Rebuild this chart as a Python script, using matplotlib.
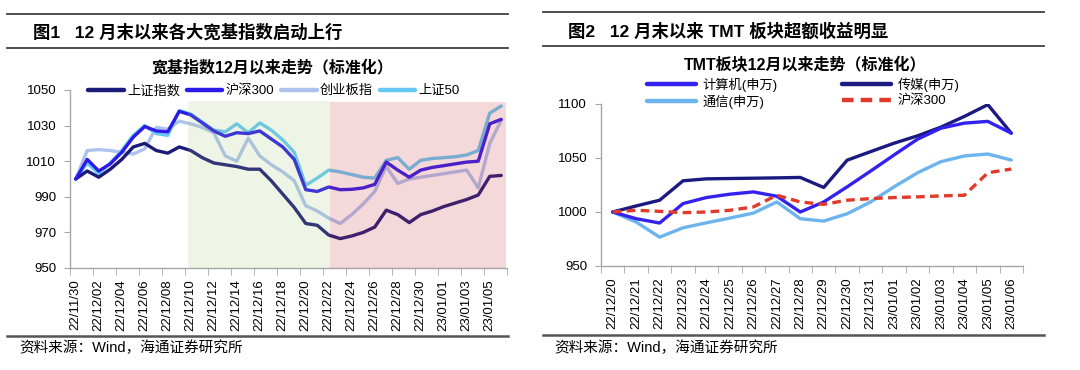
import matplotlib
matplotlib.use('Agg')
import matplotlib.pyplot as plt
from matplotlib.lines import Line2D

plt.rcParams['font.family'] = ['Liberation Sans', 'Noto Sans CJK SC']
plt.rcParams['axes.unicode_minus'] = False

# ---- left chart data: broad indices, normalised to 1000 on 22/11/30 ----
left_days = ['22/11/30', '22/12/01', '22/12/02', '22/12/03', '22/12/04', '22/12/05',
             '22/12/06', '22/12/07', '22/12/08', '22/12/09', '22/12/10', '22/12/11',
             '22/12/12', '22/12/13', '22/12/14', '22/12/15', '22/12/16', '22/12/17',
             '22/12/18', '22/12/19', '22/12/20', '22/12/21', '22/12/22', '22/12/23',
             '22/12/24', '22/12/25', '22/12/26', '22/12/27', '22/12/28', '22/12/29',
             '22/12/30', '22/12/31', '23/01/01', '23/01/02', '23/01/03', '23/01/04',
             '23/01/05', '23/01/06']
sh_index = [1000, 1004.5, 1001, 1005.5, 1011, 1018, 1020, 1016, 1014.5, 1018,
            1016, 1012, 1009, 1008, 1007, 1005.5, 1005.5, 999, 991.5, 984,
            975, 974, 968.5, 966.5, 968, 970, 973, 982.5, 980, 975.5,
            980, 982, 984.5, 986.5, 988.5, 991, 1001.5, 1002]
hs300 = [1000, 1011, 1004.5, 1008.5, 1015, 1023.5, 1029.5, 1027, 1026.5, 1038,
         1036, 1031.5, 1027, 1024, 1026, 1025.5, 1027, 1022.5, 1018, 1011,
         994, 993, 995.5, 994, 994.2, 995, 997, 1009.5, 1005, 1001,
         1005, 1006.5, 1007.5, 1008.5, 1009.5, 1010, 1031, 1033.5]
cyb = [1000, 1016, 1016.5, 1016, 1015, 1014, 1017, 1029, 1028, 1032.5,
       1031, 1029, 1026, 1013, 1010, 1023, 1013, 1008, 1004, 999,
       985, 982, 978, 975, 980, 986, 993, 1007, 997.5, 1000,
       1001, 1002, 1003, 1004, 1005, 995, 1020, 1033]
sz50 = [1000, 1009, 1003, 1009, 1016, 1024.5, 1030, 1025.5, 1024.5, 1038.5,
        1036.5, 1032, 1027.5, 1026.5, 1031, 1026, 1031.5, 1027.5, 1022, 1015,
        996.5, 1000.5, 1005, 1004, 1002.5, 1001, 1000.5, 1010.5, 1012, 1005.5,
        1010.5, 1011.5, 1012, 1012.5, 1013.5, 1016, 1037, 1041]
left_names = ['上证指数', '沪深300', '创业板指', '上证50']
green_period = (9.75, 22.1)
red_period = (22.1, 37.4)

# ---- right chart data: TMT sectors, normalised to 1000 on 22/12/20 ----
right_days = ['22/12/20', '22/12/21', '22/12/22', '22/12/23', '22/12/24', '22/12/25',
              '22/12/26', '22/12/27', '22/12/28', '22/12/29', '22/12/30', '22/12/31',
              '23/01/01', '23/01/02', '23/01/03', '23/01/04', '23/01/05', '23/01/06']
computer = [1000, 993.8, 989.8, 1007.8, 1013.4, 1016.5, 1018.6, 1014.6, 1000, 1009.3,
            1023.3, 1037.9, 1052.8, 1067.4, 1077.6, 1082.3, 1083.9, 1073]
media = [1000, 1005.6, 1010.9, 1028.9, 1030.7, 1031, 1031.3, 1031.6, 1032, 1022.7,
         1048, 1055.9, 1063.7, 1070.5, 1078.6, 1088.5, 1099.4, 1073]
telecom = [1000, 990.7, 976.7, 985.4, 990, 994.4, 999, 1009.3, 993.8, 991.6,
           998.4, 1009.3, 1023.3, 1036.3, 1046.6, 1051.9, 1053.7, 1048.1]
hs300_r = [1000, 1001.6, 1000.6, 999.4, 1000, 1001.6, 1004.7, 1015.5, 1009.3, 1007.1,
           1010.9, 1012.4, 1013.4, 1014, 1014.9, 1015.5, 1036.3, 1039.8]
right_names = ['计算机(申万)', '传媒(申万)', '通信(申万)', '沪深300']

W, H = 1080, 370
fig = plt.figure(figsize=(W / 100, H / 100), dpi=100)


def fx(x):
    return x / W


def fy(y):
    return 1 - y / H


def rule(x0, x1, y, lw, color):
    fig.add_artist(Line2D([fx(x0), fx(x1)], [fy(y), fy(y)], lw=lw, color=color,
                          transform=fig.transFigure))


def style_axes(ax):
    for s in ['top', 'right']:
        ax.spines[s].set_visible(False)
    for s in ['left', 'bottom']:
        ax.spines[s].set_color('#a6a6a6')
        ax.spines[s].set_linewidth(1.0)
    ax.tick_params(axis='y', which='major', length=4, color='#a6a6a6', labelsize=9.5, pad=6)
    ax.tick_params(axis='x', which='major', length=0, labelsize=9.5, pad=8, rotation=90)
    ax.tick_params(axis='x', which='minor', length=5, color='#a6a6a6')


# ---------------- left panel ----------------
rule(7, 508, 14, 1.3, '#404040')
rule(7, 508, 48, 1.3, '#404040')
rule(7, 508, 336, 1.8, '#555555')
fig.text(fx(33), fy(32), '图1   12 月末以来各大宽基指数启动上行', fontsize=12.5,
         fontweight='bold', va='center', ha='left')
fig.text(fx(272), fy(67), '宽基指数12月以来走势（标准化）', fontsize=11.5,
         fontweight='bold', va='center', ha='center')
fig.text(fx(19), fy(348), '资料来源：Wind，海通证券研究所', fontsize=10.5, va='center', ha='left')

ax1 = fig.add_axes([fx(70), fy(268), fx(507) - fx(70), (268 - 90) / H])
xs = range(len(left_days))
l1 = ax1.plot(xs, sh_index, color='#1c1a78', lw=2.4, solid_capstyle='round', zorder=2)[0]
l2 = ax1.plot(xs, hs300, color='#2d1ae8', lw=2.4, solid_capstyle='round', zorder=2)[0]
l3 = ax1.plot(xs, cyb, color='#aec2ef', lw=2.4, solid_capstyle='round', zorder=1.5)[0]
l4 = ax1.plot(xs, sz50, color='#66c8f2', lw=2.4, solid_capstyle='round', zorder=1.8)[0]
ax1.axvspan(*green_period, ymin=0, ymax=0.94, color='#9cc86e', alpha=0.17, lw=0, zorder=3)
ax1.axvspan(*red_period, ymin=0, ymax=0.935, color='#c83c46', alpha=0.2, lw=0, zorder=3)
ax1.set_xlim(-0.5, len(left_days) - 0.5)
ax1.set_ylim(950, 1050)
ax1.set_yticks([950, 970, 990, 1010, 1030, 1050])
ax1.set_xticks(list(xs)[::2])
ax1.set_xticklabels(left_days[::2])
ax1.set_xticks([i - 0.5 for i in range(0, len(left_days) + 1, 2)], minor=True)
style_axes(ax1)
ax1.legend([l1, l2, l3, l4], left_names, loc='center', ncol=4,
           bbox_to_anchor=(fx(274), fy(91)), bbox_transform=fig.transFigure,
           frameon=False, fontsize=9.5, handlelength=2.7, handletextpad=0.25,
           columnspacing=0.5, borderpad=0, borderaxespad=0)
for ln in ax1.get_legend().get_lines():
    ln.set_linewidth(3.2)

# ---------------- right panel ----------------
rule(543, 1044, 12, 1.3, '#404040')
rule(543, 1044, 46, 1.3, '#404040')
rule(543, 1044, 335, 1.8, '#555555')
fig.text(fx(568), fy(31), '图2   12 月末以来 TMT 板块超额收益明显', fontsize=12.5,
         fontweight='bold', va='center', ha='left')
fig.text(fx(805), fy(65), 'TMT板块12月以来走势（标准化）', fontsize=11.5,
         fontweight='bold', va='center', ha='center')
fig.text(fx(554), fy(348), '资料来源：Wind，海通证券研究所', fontsize=10.5, va='center', ha='left')

ax2 = fig.add_axes([fx(601), fy(266), fx(1023) - fx(601), (266 - 104) / H])
xr = range(len(right_days))
r1 = ax2.plot(xr, computer, color='#3322ee', lw=2.4, solid_capstyle='round', zorder=3)[0]
r2 = ax2.plot(xr, media, color='#1a1a80', lw=2.4, solid_capstyle='round', zorder=2)[0]
r3 = ax2.plot(xr, telecom, color='#6cb4ee', lw=2.4, solid_capstyle='round', zorder=1)[0]
r4 = ax2.plot(xr, hs300_r, color='#e03a2a', lw=2.4, ls=(0, (2.6, 1.6)), zorder=4)[0]
ax2.set_xlim(-0.5, len(right_days) - 0.5)
ax2.set_ylim(950, 1100)
ax2.set_yticks([950, 1000, 1050, 1100])
ax2.set_xticks(list(xr))
ax2.set_xticklabels(right_days)
ax2.set_xticks([i - 0.5 for i in range(len(right_days) + 1)], minor=True)
style_axes(ax2)
ax2.legend([r1, r3, r2, r4], [right_names[0], right_names[2], right_names[1], right_names[3]],
           loc='center', ncol=2, bbox_to_anchor=(fx(803), fy(93)),
           bbox_transform=fig.transFigure, frameon=False, fontsize=9.5,
           handlelength=3.7, handletextpad=0.5, columnspacing=4.9,
           labelspacing=0.22, borderpad=0, borderaxespad=0)
for ln in ax2.get_legend().get_lines():
    ln.set_linewidth(3.2)

fig.savefig('out.png', dpi=100, facecolor='white')
